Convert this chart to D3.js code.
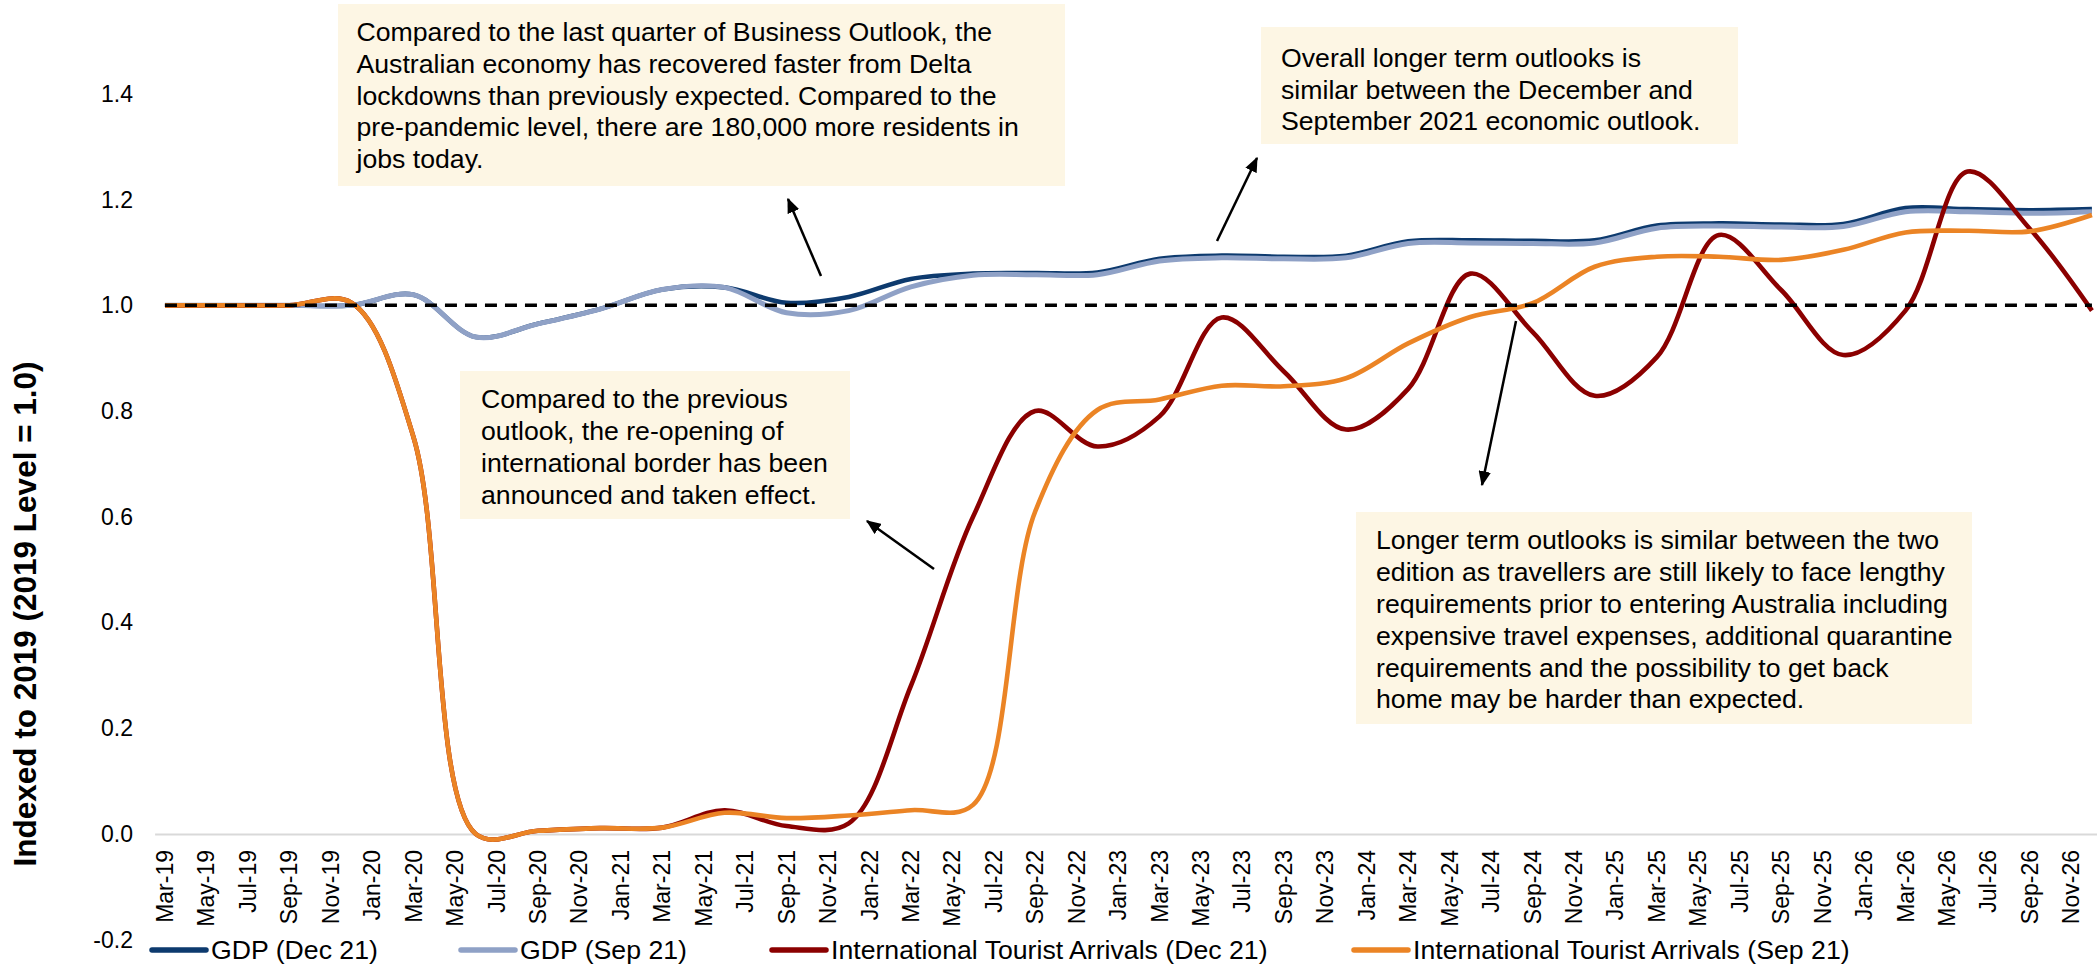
<!DOCTYPE html>
<html>
<head>
<meta charset="utf-8">
<script src="https://cdn.jsdelivr.net/npm/d3@7"></script>
<style>
  body { margin: 0; background: #fff; }
  svg { display: block; font-family: "Liberation Sans", Arial, sans-serif; }
</style>
</head>
<body>
<svg id="chart" width="2097" height="966"></svg>
<script>
// quarterly values, drawn on a monthly category axis (Mar-19 .. Dec-26)
var quarters = ["Mar-19","Jun-19","Sep-19","Dec-19","Mar-20","Jun-20","Sep-20","Dec-20",
    "Mar-21","Jun-21","Sep-21","Dec-21","Mar-22","Jun-22","Sep-22","Dec-22",
    "Mar-23","Jun-23","Sep-23","Dec-23","Mar-24","Jun-24","Sep-24","Dec-24",
    "Mar-25","Jun-25","Sep-25","Dec-25","Mar-26","Jun-26","Sep-26","Dec-26"]
var gdpDec21 = [1.000,1.000,1.000,1.000,1.020,0.940,0.965,0.993,1.030,1.034,1.005,1.016,1.050,1.060,1.061,1.062,
    1.088,1.094,1.092,1.094,1.121,1.123,1.122,1.123,1.151,1.155,1.153,1.154,1.184,1.182,1.180,1.182]
var gdpSep21 = [1.000,1.000,1.000,1.000,1.020,0.940,0.965,0.993,1.030,1.034,0.986,0.990,1.035,1.057,1.058,1.058,
    1.084,1.090,1.088,1.090,1.117,1.118,1.117,1.118,1.146,1.150,1.148,1.149,1.177,1.177,1.174,1.177]
var itaDec21 = [1.000,1.000,1.000,1.005,0.750,0.000,0.006,0.011,0.012,0.045,0.015,0.020,0.280,0.600,0.800,0.733,
    0.790,0.977,0.875,0.765,0.842,1.060,0.950,0.829,0.902,1.133,1.029,0.906,0.990,1.253,1.145,0.990]
var itaSep21 = [1.000,1.000,1.000,1.005,0.750,0.000,0.006,0.011,0.012,0.040,0.030,0.035,0.045,0.055,0.610,0.802,
    0.822,0.848,0.847,0.862,0.928,0.978,1.004,1.073,1.092,1.092,1.086,1.105,1.138,1.141,1.140,1.171]
var baseline = 1.0

var tickLabels = ["Mar-19","May-19","Jul-19","Sep-19","Nov-19",
    "Jan-20","Mar-20","May-20","Jul-20","Sep-20","Nov-20",
    "Jan-21","Mar-21","May-21","Jul-21","Sep-21","Nov-21",
    "Jan-22","Mar-22","May-22","Jul-22","Sep-22","Nov-22",
    "Jan-23","Mar-23","May-23","Jul-23","Sep-23","Nov-23",
    "Jan-24","Mar-24","May-24","Jul-24","Sep-24","Nov-24",
    "Jan-25","Mar-25","May-25","Jul-25","Sep-25","Nov-25",
    "Jan-26","Mar-26","May-26","Jul-26","Sep-26","Nov-26"]
var yTicks = [-0.2, 0, 0.2, 0.4, 0.6, 0.8, 1.0, 1.2, 1.4]

var seriesNames = ["GDP (Dec 21)", "GDP (Sep 21)",
    "International Tourist Arrivals (Dec 21)", "International Tourist Arrivals (Sep 21)"]
var seriesColors = ["#0d3a6e", "#8fa1c6", "#8b0000", "#eb8425"]
var seriesData = [gdpDec21, gdpSep21, itaDec21, itaSep21]

var notes = [
    { box: [338, 4, 727, 182], tx: 356.5, ty: 31.7, lines: [
        "Compared to the last quarter of Business Outlook, the",
        "Australian economy has recovered faster from Delta",
        "lockdowns than previously expected. Compared to the",
        "pre-pandemic level, there are 180,000 more residents in",
        "jobs today."] },
    { box: [1261, 27, 477, 117], tx: 1281, ty: 57.5, lines: [
        "Overall longer term outlooks is",
        "similar between the December and",
        "September 2021 economic outlook."] },
    { box: [460, 371, 390, 148], tx: 481, ty: 399, lines: [
        "Compared to the previous",
        "outlook, the re-opening of",
        "international border has been",
        "announced and taken effect."] },
    { box: [1356, 512, 616, 212], tx: 1376, ty: 540, lines: [
        "Longer term outlooks is similar between the two",
        "edition as travellers are still likely to face lengthy",
        "requirements prior to entering Australia including",
        "expensive travel expenses, additional quarantine",
        "requirements and the possibility to get back",
        "home may be harder than expected."] }
]
var arrows = [[821, 276, 788, 199], [1217, 241, 1257, 158], [934, 569, 867, 521], [1516, 321, 1482, 485]]

var svg = d3.select("#chart")
var months = d3.timeMonth.range(new Date(2019, 2, 1), new Date(2027, 0, 1)).map(d3.timeFormat("%b-%y"))

var x = d3.scaleBand().domain(months).range([154.6, 2102.3])
var xc = d => x(d) + x.bandwidth() / 2
var y = d3.scaleLinear().domain([-0.2, 1.4]).range([939.7, 93.9])

// x axis sits on 0
var xAxis = svg.append("g")
    .attr("transform", `translate(0,${y(0)})`)
    .call(d3.axisBottom(x).tickValues(tickLabels).tickSize(0).tickSizeOuter(0))
xAxis.select(".domain").attr("stroke", "#d9d9d9").attr("stroke-width", 2)
xAxis.selectAll("text")
    .attr("transform", "rotate(-90)")
    .attr("text-anchor", "end")
    .attr("x", -16).attr("y", 0).attr("dy", "0.35em")
    .attr("font-size", 23).attr("font-family", "Liberation Sans, Arial, sans-serif")
    .attr("fill", "#000")

var yAxis = svg.append("g")
    .attr("transform", "translate(143,0)")
    .call(d3.axisLeft(y).tickValues(yTicks).tickFormat(d => d.toFixed(1)).tickSize(0).tickPadding(10))
yAxis.select(".domain").remove()
yAxis.selectAll("text")
    .attr("font-size", 23).attr("font-family", "Liberation Sans, Arial, sans-serif")
    .attr("fill", "#000")

svg.append("text")
    .attr("transform", "translate(25,614) rotate(-90)")
    .attr("text-anchor", "middle")
    .attr("dy", "0.35em")
    .attr("font-size", 31.5).attr("font-weight", "bold")
    .text("Indexed to 2019 (2019 Level = 1.0)")

var line = d3.line()
    .x((d, i) => xc(quarters[i]))
    .y(d => y(d))
    .curve(d3.curveCatmullRom)

svg.append("g").selectAll("path")
    .data(seriesData)
    .enter().append("path")
    .attr("d", line)
    .attr("fill", "none")
    .attr("stroke", (d, i) => seriesColors[i])
    .attr("stroke-width", (d, i) => i == 1 ? 5 : 4.6)
    .attr("stroke-linejoin", "round")

svg.append("path")
    .datum(quarters.map(() => baseline))
    .attr("d", d3.line().x((d, i) => xc(quarters[i])).y(d => y(d)))
    .attr("fill", "none")
    .attr("stroke", "#000")
    .attr("stroke-width", 3.5)
    .attr("stroke-dasharray", "12,8")

// annotation boxes
var note = svg.append("g").selectAll("g")
    .data(notes)
    .enter().append("g")
note.append("rect")
    .attr("x", d => d.box[0]).attr("y", d => d.box[1])
    .attr("width", d => d.box[2]).attr("height", d => d.box[3])
    .attr("fill", "#fdf6e4")
note.each(function (d) {
    var t = d3.select(this).append("text")
        .attr("font-size", 26.67).attr("fill", "#000")
    d.lines.forEach(function (l, i) {
        t.append("tspan")
            .attr("x", d.tx).attr("y", d.ty + i * 31.8)
            .attr("dy", "0.35em")
            .text(l)
    })
})

svg.append("defs").append("marker")
    .attr("id", "head")
    .attr("viewBox", "0 0 12 10")
    .attr("refX", 11).attr("refY", 5)
    .attr("markerWidth", 6).attr("markerHeight", 5)
    .attr("orient", "auto")
    .append("path").attr("d", "M0,0L12,5L0,10z").attr("fill", "#000")

svg.append("g").selectAll("line")
    .data(arrows)
    .enter().append("line")
    .attr("x1", d => d[0]).attr("y1", d => d[1])
    .attr("x2", d => d[2]).attr("y2", d => d[3])
    .attr("stroke", "#000").attr("stroke-width", 2.5)
    .attr("marker-end", "url(#head)")

// legend
var legendX = [152, 461, 772, 1354]
var legend = svg.append("g").selectAll("g")
    .data(seriesNames)
    .enter().append("g")
    .attr("transform", (d, i) => `translate(${legendX[i]},950)`)
legend.append("line")
    .attr("x1", 0).attr("x2", 54)
    .attr("stroke", (d, i) => seriesColors[i])
    .attr("stroke-width", 5.5)
    .attr("stroke-linecap", "round")
legend.append("text")
    .attr("x", 59).attr("dy", "0.35em")
    .attr("font-size", 26.67)
    .text(d => d)
</script>
</body>
</html>
